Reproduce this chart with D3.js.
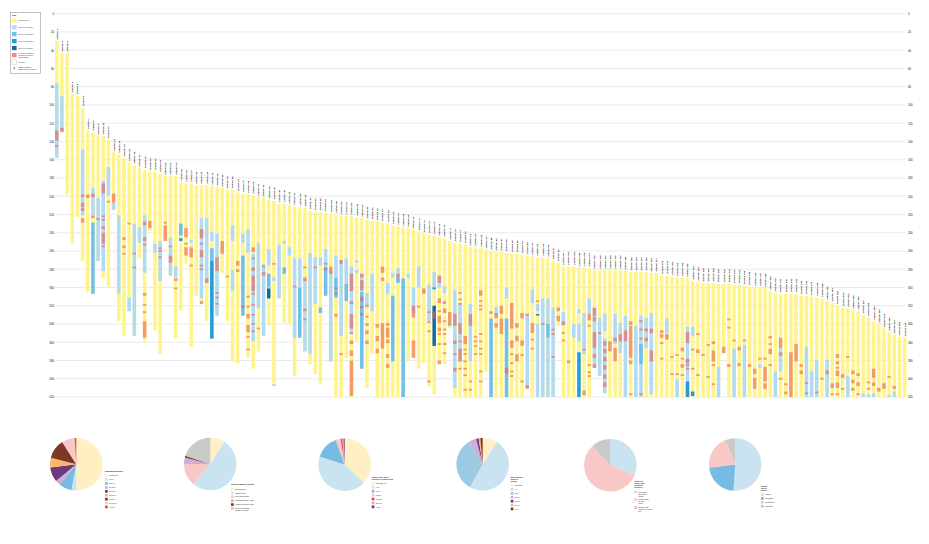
<!DOCTYPE html>
<html>
<head>
<meta charset="utf-8">
<script src="https://cdn.jsdelivr.net/npm/d3@7"></script>
<style>
body { margin: 0; background: #fff; }
svg { display: block; font-family: "Liberation Sans", Arial, sans-serif; }
</style>
</head>
<body>
<div class="container"></div>
<script>
// ---- data ----
var yTicks = [0,20,40,60,80,100,120,140,160,180,200,220,240,260,280,300,320,340,360,380,400,420];

var names = ('Station 1|Station 2|Station 3|Station 4|Station 5|Station 6|Station 7|Station 8|Station 9|Station 10|Station 11|Station 12|Station 13|Station 14|Station 15|Station 16|Station 17|Station 18|Station 19|Station 20|' +
  'Station 21|Station 22|Station 23|Station 24|Station 25|Station 26|Station 27|Station 28|Station 29|Station 30|Station 31|Station 32|Station 33|Station 34|Station 35|Station 36|Station 37|Station 38|Station 39|Station 40|' +
  'Station 41|Station 42|Station 43|Station 44|Station 45|Station 46|Station 47|Station 48|Station 49|Station 50|Station 51|Station 52|Station 53|Station 54|Station 55|Station 56|Station 57|Station 58|Station 59|Station 60|' +
  'Station 61|Station 62|Station 63|Station 64|Station 65|Station 66|Station 67|Station 68|Station 69|Station 70|Station 71|Station 72|Station 73|Station 74|Station 75|Station 76|Station 77|Station 78|Station 79|Station 80|' +
  'Station 81|Station 82|Station 83|Station 84|Station 85|Station 86|Station 87|Station 88|Station 89|Station 90|Station 91|Station 92|Station 93|Station 94|Station 95|Station 96|Station 97|Station 98|Station 99|Station 100|' +
  'Station 101|Station 102|Station 103|Station 104|Station 105|Station 106|Station 107|Station 108|Station 109|Station 110|Station 111|Station 112|Station 113|Station 114|Station 115|Station 116|Station 117|Station 118|Station 119|Station 120|' +
  'Station 121|Station 122|Station 123|Station 124|Station 125|Station 126|Station 127|Station 128|Station 129|Station 130|Station 131|Station 132|Station 133|Station 134|Station 135|Station 136|Station 137|Station 138|Station 139|Station 140|' +
  'Station 141|Station 142|Station 143|Station 144|Station 145|Station 146|Station 147|Station 148|Station 149|Station 150|Station 151|Station 152|Station 153|Station 154|Station 155|Station 156|Station 157|Station 158|Station 159|Station 160|' +
  'Station 161|Station 162|Station 163|Station 164|Station 165').split('|');

var tops = [30,43,43,88,90,103,128,130,134,134, 138,152,154,158,163,166,169,171,173,173,
  175,178,178,178,185,186,186,188,188,188, 189,190,191,193,193,196,197,198,199,201,
  202,204,205,208,208,210,211,212,213,216, 217,217,218,219,220,221,221,222,223,224,
  226,227,228,229,230,232,233,234,235,237, 239,241,242,243,245,246,249,251,252,253,
  256,256,257,259,260,261,261,262,263,263, 264,265,266,267,267,268,271,273,277,277,
  277,278,278,279,281,281,281,281,281,281, 282,283,283,283,283,284,284,287,287,288,
  289,289,290,293,294,295,295,295,296,296, 296,297,297,298,299,300,300,301,304,306,
  307,307,307,307,309,309,310,311,312,315, 317,320,322,323,325,326,330,333,337,340,
  345,349,352,354,355];

var bottoms = [158,130,198,252,223,271,305,307,271,290, 300,215,337,353,326,353,268,359,238,347,
  373,249,287,356,325,274,365,309,318,337, 356,331,284,337,381,383,331,377,389,370,
  353,342,408,312,339,340,397,355,370,384, 395,406,309,381,420,420,377,420,359,389,
  410,373,420,420,420,420,420,420,381,377, 389,383,408,417,384,384,345,420,420,420,
  420,420,420,392,420,420,420,420,420,420, 420,411,420,420,420,420,420,342,420,420,
  420,420,420,420,388,397,416,420,420,420, 420,420,420,420,420,420,420,420,420,420,
  420,420,420,420,420,420,420,420,420,372, 420,420,420,420,420,420,420,420,420,420,
  420,420,420,420,420,420,420,420,420,420, 420,420,420,420,420,420,420,420,420,420,
  420,420,420,420,420];

// [bar, from, to, level]  level 1 light .. 4 dark
var blues = [
  [0,76,158,1],[1,90,130,1],[5,149,221,1],[7,191,221,1],[7,229,307,2],[8,202,271,1],[9,183,282,1],[10,168,199,1],
  [11,207,215,1],[12,221,307,1],[14,311,326,1],[15,230,353,1],[16,234,251,1],[17,221,284,1],[19,252,262,1],[20,249,293,1],
  [22,245,287,1],[23,277,289,1],[24,230,243,2],[24,246,249,3],[26,248,251,1],
  [28,224,312,1],[29,224,295,1],[30,239,249,1],[30,257,271,2],[30,271,356,3],[31,241,331,1],[34,232,249,1],[34,281,304,1],
  [36,241,251,1],[36,265,331,2],[37,236,262,1],[38,263,359,1],[39,251,323,1],[40,274,353,1],[41,258,276,1],[41,285,300,2],
  [41,301,312,4],[42,289,293,1],[42,406,408,1],[43,253,312,1],[44,249,252,1],[44,278,285,2],[45,256,265,1],[46,268,355,1],
  [47,268,300,1],[47,300,355,2],[48,290,370,1],[49,262,373,1],[50,267,318,1],[51,267,276,1],[51,322,328,2],[52,258,278,1],
  [52,278,309,2],[53,281,381,1],[54,265,289,1],[54,289,311,2],[55,270,353,1],[56,268,296,1],[56,296,315,2],[57,277,351,1],
  [58,270,273,1],[58,281,284,1],[59,285,305,1],[59,305,389,2],[60,306,322,1],[61,285,326,1],[64,295,307,1],[65,284,289,1],
  [65,309,381,2],[66,279,293,1],[66,289,295,2],[67,290,420,2],[68,285,289,1],[69,300,328,1],[70,277,300,1],[72,297,337,1],
  [73,283,301,1],[73,300,302,3],[73,320,364,4],[74,287,300,1],[75,299,306,1],[76,339,342,2],[77,303,410,1],[78,317,381,1],
  [80,318,381,1],[84,334,420,2],[85,321,331,1],[87,300,312,1],[87,334,420,2],[91,329,410,1],[92,302,317,1],[93,318,326,1],
  [93,329,331,3],[93,340,420,1],[94,312,420,1],[95,312,340,1],[95,340,355,2],[95,355,420,1],
  [96,322,420,1],[98,327,342,1],[100,340,355,1],[101,324,328,1],[101,340,359,1],[101,371,420,3],[102,328,373,1],[103,312,329,1],
  [104,322,388,1],[105,333,397,1],[106,329,348,1],[106,356,416,1],[108,329,362,1],[109,339,372,1],[110,331,420,1],[112,342,420,1],
  [113,331,420,1],[113,362,384,2],[114,333,366,1],[115,328,417,1],[118,334,350,1],[120,401,420,1],[122,343,420,1],[122,403,420,3],
  [123,343,353,1],[123,414,419,3],[128,387,420,1],[131,367,420,1],[133,363,420,1],[136,384,388,1],[139,392,420,1],[140,366,392,1],
  [145,365,420,1],[146,392,420,1],[147,379,420,1],[149,379,420,1],[153,397,420,1],[156,416,420,1],[157,417,420,1],[158,416,420,1],
  [161,418,420,1],[162,414,420,1]
];

// [bar, from, to]
var reds = [
  [0,128,139],[0,144,146],[1,125,129],[5,198,201],[5,207,212],[5,213,216],[5,224,229],[6,198,202],[7,197,201],[7,221,224],
  [8,224,226],[9,186,197],[9,221,222],[9,225,226],[9,233,236],[9,240,252],[9,254,256],[10,205,207],[11,197,207],[13,245,248],
  [13,254,257],[13,262,264],[14,229,231],[15,262,264],[15,277,279],[17,228,232],[17,245,249],[17,252,254],[17,306,309],[17,318,320],
  [17,326,328],[17,337,355],[18,227,235],[20,256,258],[20,259,261],[20,266,268],[21,228,230],[21,232,249],[22,254,256],[22,265,273],
  [23,290,293],[23,300,302],[25,235,245],[25,251,252],[25,256,265],[26,256,267],[26,275,277],
  [28,236,246],[28,251,252],[28,259,267],[28,275,276],[28,279,281],[28,315,318],[29,290,295],[31,267,282],[31,305,306],[31,310,311],
  [31,317,318],[32,249,263],[33,287,289],[35,271,276],[35,280,283],[36,320,322],[37,309,310],[37,320,321],[37,329,334],[37,341,349],
  [37,353,354],[37,367,369],[38,256,261],[38,267,268],[38,278,282],[38,287,304],[38,306,308],[38,318,319],[38,329,330],[38,339,340],
  [38,347,349],[39,344,345],[40,276,278],[40,283,287],[42,273,275],[46,298,300],[48,277,279],[48,289,293],[48,323,326],[48,334,336],
  [50,277,279],[52,273,274],[52,278,281],[53,277,285],[54,300,302],[54,306,308],[54,329,332],[55,270,274],[55,372,374],[57,285,304],
  [57,315,318],[57,329,345],[57,349,351],[57,358,362],[57,369,375],[57,380,419],[59,285,289],[59,292,303],[59,310,315],[59,320,323],
  [59,328,331],[60,319,321],[60,331,332],[60,339,342],[60,347,351],[60,358,362],[62,340,344],[62,353,359],[62,367,372],[63,277,284],
  [63,289,293],[63,339,367],[64,339,342],[64,344,355],[64,357,361],[64,373,377],[64,384,388],[66,285,289],[69,320,333],[69,358,377],
  [70,320,322],[71,301,307],[72,326,328],[72,337,339],[72,347,348],[72,402,404],[73,326,334],[74,287,295],[74,312,317],[74,325,327],
  [74,331,339],[74,344,348],[74,350,351],[74,361,363],[74,380,384],[75,315,318],[75,323,328],[75,336,338],[75,345,347],[75,350,352],
  [75,361,363],[75,371,373],[76,327,339],[77,329,342],[77,358,362],[77,372,373],[77,388,392],[78,305,306],[78,312,313],[78,317,318],
  [78,339,351],[78,358,359],[78,367,381],[78,388,389],[79,353,362],[79,367,368],[79,372,374],[79,380,381],[79,388,389],[79,395,396],
  [79,411,412],[80,329,342],[80,402,403],[80,411,412],[81,353,354],[81,358,359],[81,363,365],[81,372,373],[82,303,309],[82,314,315],
  [82,319,320],[82,323,325],[82,350,351],[82,358,359],[82,366,367],[82,372,373],[82,391,392],[82,402,403],[84,326,329],[85,328,334],
  [85,339,344],[86,320,329],[86,334,351],[87,388,394],[88,317,345],[88,358,366],[88,372,374],[88,382,383],[88,391,392],[88,396,397],
  [89,339,344],[89,353,359],[89,373,381],[90,328,334],[90,358,364],[90,373,374],[90,402,403],[91,329,330],[91,407,411],[92,339,350],
  [92,356,357],[92,366,367],[93,314,316],[94,339,341],
  [96,345,346],[96,350,351],[96,375,376],[97,322,326],[97,331,337],[98,337,341],[98,349,351],[98,357,359],[99,380,383],[102,367,368],
  [102,413,418],[103,329,336],[103,341,342],[103,384,385],[103,392,393],[103,396,397],[104,322,331],[104,332,337],[104,349,366],[104,373,377],
  [104,384,388],[105,349,350],[106,359,364],[106,367,372],[106,376,381],[106,385,390],[106,395,400],[106,404,409],[107,359,370],[108,355,359],
  [108,366,381],[109,351,359],[110,347,359],[111,337,341],[111,342,377],[111,380,384],[111,416,418],[113,336,338],[113,345,347],[113,355,356],
  [113,416,418],[114,345,348],[114,355,359],[115,345,350],[115,369,381],[117,347,350],[117,351,355],[117,360,362],[117,377,379],[118,351,357],
  [119,375,377],[119,394,395],[120,373,375],[120,394,395],[121,366,370],[121,377,378],[121,384,388],[121,395,396],[122,349,359],[122,359,361],
  [122,378,383],[122,384,386],[122,388,389],[122,414,417],[123,367,368],[123,388,390],[124,350,351],[124,368,372],[124,395,397],[125,373,375],
  [126,362,364],[126,397,399],[127,359,362],[127,369,381],[127,384,386],[127,405,407],[129,365,372],[130,334,336],[130,343,345],[130,384,387],
  [131,357,359],[132,365,369],[132,383,386],[133,357,359],[134,384,387],[135,389,395],[135,399,411],[136,377,379],[137,377,379],[137,387,403],
  [137,405,411],[138,353,356],[138,361,363],[138,367,373],[138,384,386],[140,355,366],[140,371,375],[140,399,400],[141,405,407],[141,414,417],
  [142,371,420],[143,362,381],[144,384,387],[144,391,395],[145,404,405],[145,415,416],[147,414,415],[148,399,400],[149,391,395],[150,405,410],
  [150,416,417],[151,373,377],[151,381,384],[151,387,389],[151,391,397],[151,404,410],[151,416,417],[152,395,399],[152,410,412],[153,375,377],
  [154,391,395],[154,401,405],[154,410,413],[155,394,397],[155,404,408],[155,416,417],[157,403,405],[157,410,411],[158,389,399],[158,404,408],
  [159,410,414],[160,405,411],[161,397,399],[162,408,411]
];

var keyLabels = [['Not surveyed'], ['Surveyed, class 1'], ['Surveyed, class 2'], ['Surveyed, class 3'], ['Surveyed, class 4'],
  ['Recorded features,', 'position of record', 'approximate'], ['No data']];
var keyMarkerLabel = ['Station position,', 'approximate location'];

var pie1Labels = ['Unmapped', '1-5 m', '5-10 m', '10-15 m', '15-20 m', '20-30 m', '30-50 m', '50-100 m', '>100 m'];
var pie1Values = [50, 3, 8, 3, 9, 6, 12, 8, 1];
var pie2Labels = ['Not assessed', 'Stable outline', 'Retreating outline', 'Retreating outline (fast)', 'Advancing outline (fast)', 'Mixed or unknown', 'change of outline'];
var pie2Values = [9, 52, 14, 4, 1, 20];
var pie3Labels = ['Unknown / nil', '<1%', '1-5%', '5-10%', '10-20%', '20-40%', '>40%'];
var pie3Values = [37, 43, 14.5, 3, 1, 0.8, 0.7];
var pie4Labels = ['Unknown', '<5°', '5-10°', '10-20°', '20-30°', '30-40°', '>40°'];
var pie4Values = [9, 49, 33, 5, 1.5, 1, 1.5];
var pie5Labels = [['Field data', 'with GPS', 'control'], ['Remote data', 'no field', 'check'], ['Remote data', 'partial field check', 'only']];
var pie5Values = [31, 57, 12];
var pie6Labels = ['Primary', 'Secondary', 'Interpolated', 'Unknown'];
var pie6Values = [51, 22, 21, 6];

// ---- styles ----
var C = {
    yellow: '#fff48c', blue1: '#b1dbf4', blue2: '#6fc0ea', blue3: '#1c9fdc', blue4: '#0d6ea6', red: '#ec5f50',
    cream: '#fff0c3', lb: '#c9e3f0', mb: '#78bbe2', mb2: '#9ccae4', lilac: '#cfadd5', purple: '#6c3a7c',
    orange: '#fdb66b', brown: '#7d3828', pink: '#f8c8c6', pred: '#e84a2c', gray: '#c9c9c9'
};
var blueFill = [null, C.blue1, C.blue2, C.blue3, C.blue4];

var translate = (x, y) => `translate(${ x },${ y })`;

var svg = d3.select('.container').append('svg')
    .attr('width', 929)
    .attr('height', 544);

svg.append('rect').attr('width', 929).attr('height', 544).attr('fill', '#fff');

var y = d3.scaleLinear().domain([0, 420]).range([13.7, 397]);
var x = d3.scaleBand()
    .domain(d3.range(tops.length))
    .range([55, 906.4])
    .paddingInner(0.323)
    .paddingOuter(0);
var bw = x.bandwidth();

// grid
svg.append('g').classed('grid', true)
    .selectAll('line')
    .data(yTicks)
    .join('line')
    .attr('x1', 55).attr('x2', 905)
    .attr('y1', d => y(d)).attr('y2', d => y(d))
    .attr('stroke', '#e4e4e4')
    .attr('stroke-width', 0.8);

var styleAxis = g => {
    g.select('.domain').remove();
    g.selectAll('text').attr('font-size', 2.8).attr('fill', '#111');
};
svg.append('g').attr('transform', translate(54.5, 0))
    .call(d3.axisLeft(y).tickValues(yTicks).tickSize(0).tickPadding(0.5))
    .call(styleAxis);
svg.append('g').attr('transform', translate(907.5, 0))
    .call(d3.axisRight(y).tickValues(yTicks).tickSize(0).tickPadding(0.5))
    .call(styleAxis);

// bars
var bars = svg.append('g').classed('bars', true);
bars.selectAll('rect.base')
    .data(tops)
    .join('rect')
    .classed('base', true)
    .attr('x', (d, i) => x(i))
    .attr('y', d => y(d))
    .attr('width', bw)
    .attr('height', (d, i) => y(bottoms[i]) - y(d))
    .attr('fill', C.yellow);

bars.selectAll('rect.blue')
    .data(blues)
    .join('rect')
    .classed('blue', true)
    .attr('x', d => x(d[0]))
    .attr('y', d => y(d[1]))
    .attr('width', bw)
    .attr('height', d => y(d[2]) - y(d[1]))
    .attr('fill', d => blueFill[d[3]]);

bars.selectAll('rect.red')
    .data(reds)
    .join('rect')
    .classed('red', true)
    .attr('x', d => x(d[0]))
    .attr('y', d => y(d[1]))
    .attr('width', bw)
    .attr('height', d => Math.max(1.8, y(d[2]) - y(d[1])))
    .attr('fill', C.red)
    .attr('fill-opacity', 0.6);

// names above bars
bars.selectAll('text')
    .data(names)
    .join('text')
    .attr('transform', (d, i) => translate(x(i) + bw / 2 + 0.9, y(tops[i]) - 1.5) + ' rotate(-90)')
    .attr('font-size', 2.5)
    .attr('font-weight', 'bold')
    .attr('fill', '#000')
    .text(d => d);

// key
var key = svg.append('g').classed('key', true);
key.append('rect')
    .attr('x', 10.5).attr('y', 12.5).attr('width', 30).attr('height', 61)
    .attr('fill', '#fff').attr('stroke', '#9a9a9a').attr('stroke-width', 0.6);
key.append('text').attr('x', 12).attr('y', 16.2).attr('font-size', 2.4).attr('font-weight', 'bold').text('Key');
var keyFills = [C.yellow, C.blue1, C.blue2, C.blue3, C.blue4, '#f28a78', '#fff'];
var keyRows = [18.5, 25.2, 32, 39, 46, 53, 60];
keyLabels.forEach((lines, i) => {
    key.append('rect')
        .attr('x', 12).attr('y', keyRows[i]).attr('width', 4.6).attr('height', 4.2)
        .attr('fill', keyFills[i])
        .attr('stroke', i === 6 ? '#bbb' : 'none').attr('stroke-width', 0.4);
    var t = key.append('text').attr('font-size', 1.9).attr('fill', '#333');
    lines.forEach((s, j) => t.append('tspan')
        .attr('x', 18.3)
        .attr('y', keyRows[i] + 2.7 + (j - (lines.length - 1) / 2) * 2.1)
        .text(s));
});
key.append('line')
    .attr('x1', 14.3).attr('x2', 14.3).attr('y1', 67).attr('y2', 69.5)
    .attr('stroke', '#222').attr('stroke-width', 0.6);
var mk = key.append('text').attr('font-size', 1.9).attr('fill', '#333');
keyMarkerLabel.forEach((s, j) => mk.append('tspan').attr('x', 18.3).attr('y', 68 + j * 2.1).text(s));

// pies
var pies = [
    {values: pie1Values, labels: pie1Labels, colors: [C.cream, C.lb, C.mb, C.lilac, C.purple, C.orange, C.brown, C.pink, C.pred],
     title: ['Dominant thickness'], cx: 76.3, cy: 464.3, lx: 105, ty: 472},
    {values: pie2Values, labels: pie2Labels.slice(0, 5).concat([[pie2Labels[5], pie2Labels[6]]]),
     colors: [C.cream, C.lb, C.pink, C.lilac, C.brown, C.gray],
     title: ['Surface change of outline'], cx: 210.3, cy: 464, lx: 231, ty: 485.2},
    {values: pie3Values, labels: pie3Labels, colors: [C.cream, C.lb, C.mb, C.pink, C.pred, C.lilac, C.purple],
     title: ['Debris cover share', '(percent of outline area)'], cx: 344.7, cy: 464.7, lx: 371.7, ty: 477.6},
    {values: pie4Values, labels: pie4Labels, colors: [C.cream, C.lb, C.mb2, C.lilac, C.purple, C.orange, C.brown],
     title: ['Mean surface', 'slope of', 'outline'], cx: 482.7, cy: 464.3, lx: 510.7, ty: 477.6},
    {values: pie5Values, labels: pie5Labels, colors: [C.lb, C.pink, C.gray],
     title: ['Source of', 'outline and', 'boundary', 'accuracy'], cx: 610.3, cy: 465.3, lx: 634.3, ty: 481.8},
    {values: pie6Values, labels: pie6Labels, colors: [C.lb, C.mb, C.pink, C.gray],
     title: ['Quality', 'flag of', 'outline'], cx: 735.2, cy: 464.5, lx: 761, ty: 486.6}
];

var arc = d3.arc().innerRadius(0).outerRadius(26.3);
var pieGen = d3.pie().sort(null).value(d => d);

pies.forEach(p => {
    var g = svg.append('g').attr('transform', translate(p.cx, p.cy));
    g.selectAll('path')
        .data(pieGen(p.values))
        .join('path')
        .attr('d', arc)
        .attr('fill', (d, i) => p.colors[i]);

    var lg = svg.append('g').attr('transform', translate(p.lx, 0));
    var tt = lg.append('text').attr('font-size', 1.9).attr('font-weight', 'bold').attr('fill', '#222');
    p.title.forEach((s, j) => tt.append('tspan').attr('x', 0).attr('y', p.ty + j * 2.1).text(s));

    var ry = p.ty + (p.title.length - 1) * 2.1 + 3.6;
    p.labels.forEach((lab, i) => {
        var lines = Array.isArray(lab) ? lab : [lab];
        lg.append('rect')
            .attr('x', 0).attr('y', ry - 1.2).attr('width', 2.7).attr('height', 2.7)
            .attr('fill', p.colors[i]);
        var t = lg.append('text').attr('font-size', 1.8).attr('fill', '#222');
        lines.forEach((s, j) => t.append('tspan').attr('x', 4).attr('y', ry + 0.8 + j * 2).text(s));
        ry += 3.9 + (lines.length - 1) * 2;
    });
});
</script>
</body>
</html>
